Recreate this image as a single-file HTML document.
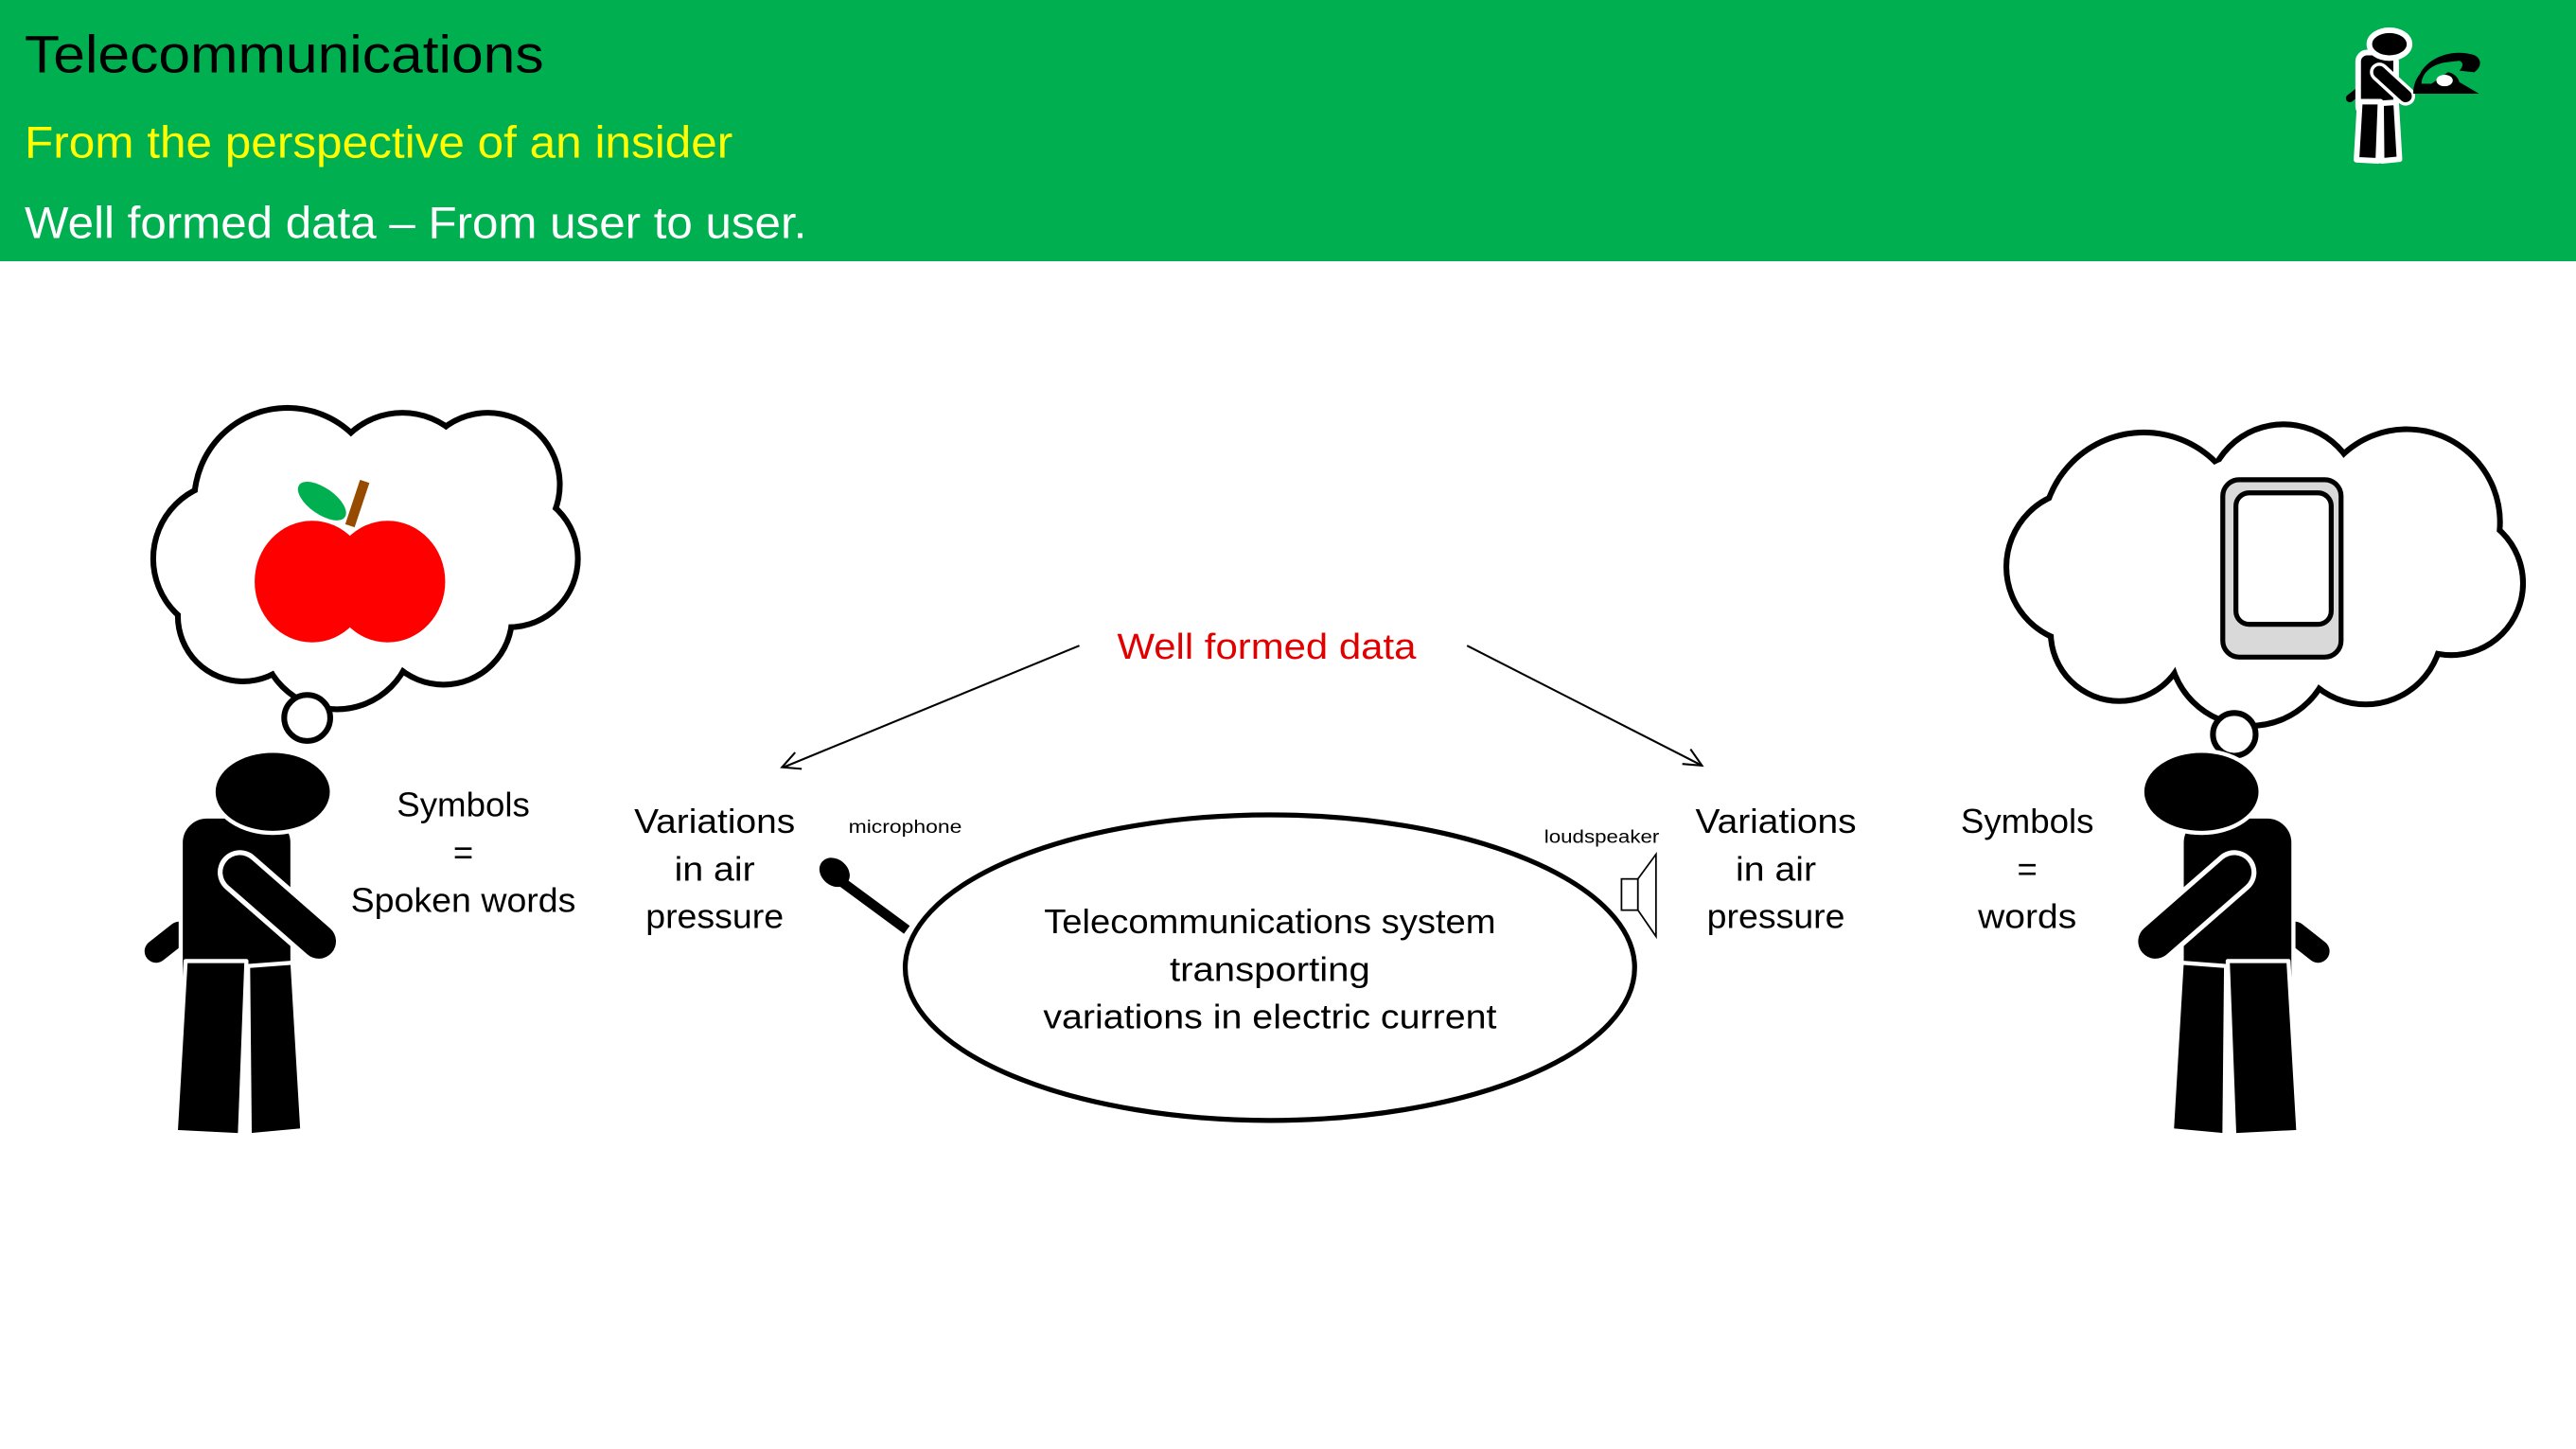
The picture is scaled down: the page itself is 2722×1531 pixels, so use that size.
<!DOCTYPE html>
<html><head><meta charset="utf-8"><style>html,body{margin:0;padding:0;background:#fff}svg{display:block}text{font-family:"Liberation Sans",sans-serif}</style></head><body>
<svg width="2722" height="1531" viewBox="0 0 1568 882" preserveAspectRatio="none" xmlns="http://www.w3.org/2000/svg">
<defs>
<g id="person">
  <line x1="95" y1="579" x2="109" y2="568" stroke="#000" stroke-width="14" stroke-linecap="round"/>
  <rect x="110" y="497" width="68" height="112" rx="16"/>
  <path d="M113,585 L150,585 L146,691 L107,689 Z" stroke-linejoin="round"/>
  <path d="M151,588 L178,586 L184,688 L152,691 Z" stroke-linejoin="round"/>
  <ellipse cx="166" cy="482" rx="36" ry="25"/>
</g>
</defs>
<rect x="0" y="0" width="1568" height="159" fill="#00b050"/>
<text x="15" y="44" font-size="32" textLength="316" lengthAdjust="spacingAndGlyphs" fill="#000">Telecommunications</text>
<text x="15" y="96" font-size="27" textLength="431" lengthAdjust="spacingAndGlyphs" fill="#ffff00">From the perspective of an insider</text>
<text x="15" y="145" font-size="27" textLength="476" lengthAdjust="spacingAndGlyphs" fill="#fff">Well formed data – From user to user.</text>

<g transform="translate(1398,-137) scale(0.34)">
  <g fill="#000" stroke="#fff" stroke-width="10"><use href="#person"/></g>
  <line x1="148" y1="532" x2="195" y2="575" stroke="#fff" stroke-width="34" stroke-linecap="round"/>
  <line x1="148" y1="532" x2="195" y2="575" stroke="#000" stroke-width="22" stroke-linecap="round"/>
</g>
<path d="M1469,57 L1509,57 L1497,50 C1496,46 1492,44 1490,44 L1480,51 L1474,51 C1474,46 1478,40 1488,38 L1497,37 C1500,38 1499,41 1497,43 L1506,44 C1512,40 1510,34 1504,33 C1492,30 1478,35 1473,45 C1469,50 1469,55 1469,57 Z" fill="#000"/>
<ellipse cx="1488" cy="49" rx="5" ry="3.5" fill="#fff"/>

<g fill="none" stroke="#000" stroke-width="7">
  <circle cx="140" cy="340" r="45"/><circle cx="175" cy="305" r="55"/><circle cx="245" cy="298" r="45"/><circle cx="297" cy="295" r="42"/><circle cx="310" cy="340" r="40"/><circle cx="270" cy="375" r="40"/><circle cx="205" cy="385" r="45"/><circle cx="148" cy="375" r="38"/>
</g>
<g fill="#fff">
  <circle cx="140" cy="340" r="45"/><circle cx="175" cy="305" r="55"/><circle cx="245" cy="298" r="45"/><circle cx="297" cy="295" r="42"/><circle cx="310" cy="340" r="40"/><circle cx="270" cy="375" r="40"/><circle cx="205" cy="385" r="45"/><circle cx="148" cy="375" r="38"/><circle cx="225" cy="340" r="60"/>
</g>
<circle cx="187" cy="437" r="14" fill="#fff" stroke="#000" stroke-width="3.5"/>
<ellipse cx="196" cy="305" rx="17" ry="8" transform="rotate(35 196 305)" fill="#00b050"/>
<line x1="213" y1="320" x2="222" y2="293" stroke="#964b00" stroke-width="6"/>
<ellipse cx="190" cy="354" rx="35" ry="37" fill="#f00"/>
<ellipse cx="236" cy="354" rx="35" ry="37" fill="#f00"/>

<g fill="none" stroke="#000" stroke-width="7">
  <circle cx="1268" cy="345" r="45"/><circle cx="1305" cy="325" r="60"/><circle cx="1390" cy="305" r="45"/><circle cx="1465" cy="318" r="55"/><circle cx="1492" cy="355" r="42"/><circle cx="1440" cy="382" r="45"/><circle cx="1370" cy="392" r="48"/><circle cx="1290" cy="385" r="40"/>
</g>
<g fill="#fff">
  <circle cx="1268" cy="345" r="45"/><circle cx="1305" cy="325" r="60"/><circle cx="1390" cy="305" r="45"/><circle cx="1465" cy="318" r="55"/><circle cx="1492" cy="355" r="42"/><circle cx="1440" cy="382" r="45"/><circle cx="1370" cy="392" r="48"/><circle cx="1290" cy="385" r="40"/><circle cx="1380" cy="345" r="70"/>
</g>
<circle cx="1360" cy="447" r="13" fill="#fff" stroke="#000" stroke-width="3.5"/>
<rect x="1353" y="292" width="72" height="108" rx="10" fill="#d9d9d9" stroke="#000" stroke-width="3"/>
<rect x="1361" y="300" width="58" height="80" rx="8" fill="#fff" stroke="#000" stroke-width="3"/>

<g fill="#000" stroke="#fff" stroke-width="2.5"><use href="#person"/></g>
<line x1="146" y1="531" x2="194" y2="573" stroke="#fff" stroke-width="27" stroke-linecap="round"/>
<line x1="146" y1="531" x2="194" y2="573" stroke="#000" stroke-width="21" stroke-linecap="round"/>
<g transform="translate(1506,0) scale(-1,1)">
  <g fill="#000" stroke="#fff" stroke-width="2.5"><use href="#person"/></g>
  <line x1="146" y1="531" x2="194" y2="573" stroke="#fff" stroke-width="27" stroke-linecap="round"/>
  <line x1="146" y1="531" x2="194" y2="573" stroke="#000" stroke-width="21" stroke-linecap="round"/>
</g>

<g stroke="#000" stroke-width="1.2" fill="none">
  <line x1="657" y1="393" x2="477" y2="467"/>
  <polyline points="484,458 476,467 488,468"/>
  <line x1="893" y1="393" x2="1036" y2="466"/>
  <polyline points="1024,465 1036,466 1029,456"/>
</g>
<text x="771" y="401" font-size="22" fill="#e00000" text-anchor="middle" textLength="182" lengthAdjust="spacingAndGlyphs">Well formed data</text>

<ellipse cx="773" cy="589" rx="222" ry="93" fill="none" stroke="#000" stroke-width="3"/>
<g font-size="21" text-anchor="middle" fill="#000">
<text x="773" y="568" textLength="275" lengthAdjust="spacingAndGlyphs">Telecommunications system</text>
<text x="773" y="597" textLength="122" lengthAdjust="spacingAndGlyphs">transporting</text>
<text x="773" y="626" textLength="276" lengthAdjust="spacingAndGlyphs">variations in electric current</text>

<text x="282" y="497" textLength="81" lengthAdjust="spacingAndGlyphs">Symbols</text>
<text x="282" y="526">=</text>
<text x="282" y="555" textLength="137" lengthAdjust="spacingAndGlyphs">Spoken words</text>

<text x="435" y="507" textLength="98" lengthAdjust="spacingAndGlyphs">Variations</text>
<text x="435" y="536" textLength="49" lengthAdjust="spacingAndGlyphs">in air</text>
<text x="435" y="565" textLength="84" lengthAdjust="spacingAndGlyphs">pressure</text>

<text x="1081" y="507" textLength="98" lengthAdjust="spacingAndGlyphs">Variations</text>
<text x="1081" y="536" textLength="49" lengthAdjust="spacingAndGlyphs">in air</text>
<text x="1081" y="565" textLength="84" lengthAdjust="spacingAndGlyphs">pressure</text>

<text x="1234" y="507" textLength="81" lengthAdjust="spacingAndGlyphs">Symbols</text>
<text x="1234" y="536">=</text>
<text x="1234" y="565" textLength="60" lengthAdjust="spacingAndGlyphs">words</text>
</g>
<text x="551" y="507" font-size="11" text-anchor="middle" textLength="69" lengthAdjust="spacingAndGlyphs">microphone</text>
<text x="975" y="513" font-size="11" text-anchor="middle" textLength="70" lengthAdjust="spacingAndGlyphs">loudspeaker</text>

<line x1="510" y1="535" x2="552" y2="566" stroke="#000" stroke-width="6"/>
<ellipse cx="508" cy="531" rx="10" ry="8" transform="rotate(40 508 531)" fill="#000"/>
<g fill="#fff" stroke="#000" stroke-width="1">
  <rect x="987" y="535" width="10" height="19"/>
  <polygon points="997,535 1008,520 1008,570 997,554"/>
</g>
</svg>
</body></html>
